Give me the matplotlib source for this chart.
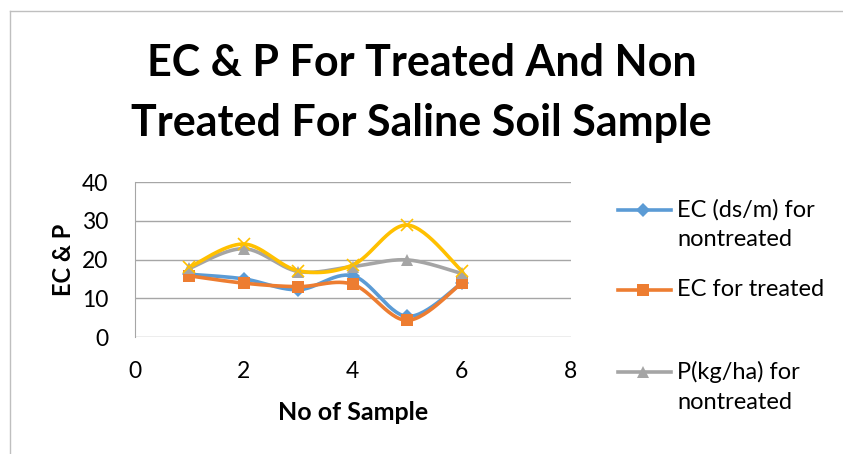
import numpy as np
import matplotlib.pyplot as plt
from matplotlib.lines import Line2D

# Data
samples = [1, 2, 3, 4, 5, 6]
ec_nontreated = [16.2, 15.0, 12.2, 15.8, 5.3, 13.9]
ec_treated = [15.8, 13.9, 13.0, 13.6, 4.3, 13.9]
p_nontreated = [17.7, 22.8, 16.9, 18.2, 19.9, 16.4]
p_treated = [18.0, 24.0, 17.1, 18.6, 28.9, 17.1]

labels = ['EC (ds/m) for\nnontreated', 'EC for treated', 'P(kg/ha) for\nnontreated']

plt.rcParams['font.family'] = ['Lato', 'DejaVu Sans']


def smooth(x, y, n=30):
    # Excel-like smoothed line (Catmull-Rom style bezier)
    x = np.asarray(x, float)
    y = np.asarray(y, float)
    px = np.concatenate([[x[0]], x, [x[-1]]])
    py = np.concatenate([[y[0]], y, [y[-1]]])
    t = np.linspace(0, 1, n)
    xs, ys = [], []
    for i in range(1, len(px) - 2):
        p0 = np.array([px[i], py[i]])
        p3 = np.array([px[i + 1], py[i + 1]])
        c1 = p0 + (p3 - np.array([px[i - 1], py[i - 1]])) / 6
        c2 = p3 - (np.array([px[i + 2], py[i + 2]]) - p0) / 6
        pts = ((1 - t) ** 3)[:, None] * p0 + (3 * (1 - t) ** 2 * t)[:, None] * c1 \
            + (3 * (1 - t) * t ** 2)[:, None] * c2 + (t ** 3)[:, None] * p3
        xs.extend(pts[:, 0])
        ys.extend(pts[:, 1])
    return xs, ys


W, H = 843, 454
fig = plt.figure(figsize=(W / 100, H / 100), dpi=100)
ax = fig.add_axes([0.160, 0.2577, 0.517, 0.3413])

series = [
    (ec_nontreated, '#5B9BD5', 'D', 7),
    (ec_treated, '#ED7D31', 's', 9),
    (p_nontreated, '#A5A5A5', '^', 9),
    (p_treated, '#FFC000', 'x', 9),
]
for vals, color, marker, ms in series:
    sx, sy = smooth(samples, vals)
    ax.plot(sx, sy, color=color, lw=2.6, solid_capstyle='round', zorder=3)
    ax.plot(samples, vals, ls='none', marker=marker, color=color, ms=ms,
            mew=1.2 if marker == 'x' else 0, zorder=4)

ax.set_xlim(0, 8)
ax.set_ylim(0, 40)
ax.set_xticks([0, 2, 4, 6, 8])
ax.set_yticks([0, 10, 20, 30, 40])
ax.grid(axis='y', color='#A6A6A6', lw=1)
ax.set_axisbelow(True)
for s in ['top', 'right', 'bottom']:
    ax.spines[s].set_visible(False)
ax.spines['left'].set_color('#A6A6A6')
ax.tick_params(length=0, labelsize=16.5)
ax.tick_params(axis='x', pad=17)
ax.tick_params(axis='y', pad=19)
ax.set_xlabel('No of Sample', fontsize=18, fontweight='bold', labelpad=14)
ax.set_ylabel('EC & P', fontsize=17, fontweight='bold', labelpad=5)

fig.text(0.5, 0.795, 'EC & P For Treated And Non\nTreated For Saline Soil Sample',
         fontsize=31, fontweight='bold', ha='center', va='center',
         linespacing=1.6)

# legend drawn by hand (only first three entries visible)
leg_y = [210, 290, 372]
for (_, color, marker, ms), lab, yy in zip(series[:3], labels, leg_y):
    fy = 1 - yy / H
    fig.add_artist(Line2D([618 / W, 671 / W], [fy, fy], color=color, lw=2.6,
                          transform=fig.transFigure))
    fig.add_artist(Line2D([643 / W], [fy], color=color, marker=marker, ms=ms,
                          mew=0, transform=fig.transFigure))
    fig.text(677 / W, fy + 11 / H, lab, fontsize=17, ha='left', va='top',
             linespacing=1.5)

# chart border (top and left visible)
fig.add_artist(Line2D([10 / W, 10 / W], [0, 1 - 11 / H], color='#BFBFBF', lw=1))
fig.add_artist(Line2D([10 / W, 1], [1 - 11 / H, 1 - 11 / H], color='#BFBFBF', lw=1))

fig.savefig('out.png', dpi=100)
